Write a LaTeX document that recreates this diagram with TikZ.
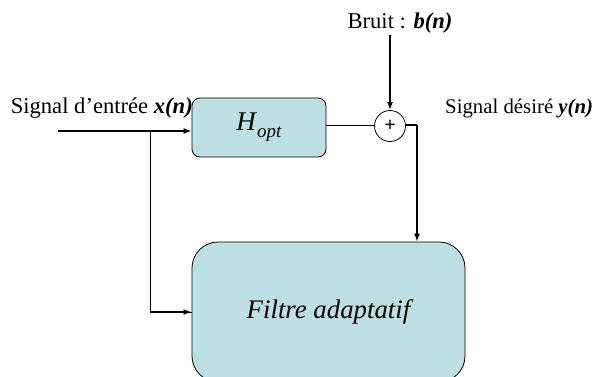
\documentclass[tikz,border=0pt]{standalone}
\usepackage{fontspec}
\setmainfont{Liberation Serif}
\usetikzlibrary{arrows.meta}
\usetikzlibrary{positioning}
\definecolor{boxcyan}{RGB}{188,224,227}
\tikzstyle{block} = [rectangle, rounded corners=8pt, minimum width=134pt, minimum height=59pt, draw=black, fill=boxcyan, line width=0.8pt]
\tikzstyle{bigblock} = [rectangle, rounded corners=26pt, minimum width=273pt, minimum height=140pt, draw=black, fill=boxcyan, line width=0.8pt]
\tikzstyle{sum} = [circle, minimum size=31pt, inner sep=0pt, draw=black, fill=white, line width=0.8pt]
\tikzstyle{label} = [inner sep=0pt, font=\fontsize{22.6}{26}\selectfont]
\tikzstyle{arrow} = [line width=1.6pt,-{Latex[length=8pt,width=6pt]}]
\tikzstyle{line} = [line width=0.8pt]

\begin{document}
\begin{tikzpicture}[x=1pt, y=-1pt]
 \useasboundingbox (0,0) rectangle (594,376);
 \node (hopt) [block] at (259,127.5) {\fontsize{27}{30}\selectfont\textit{H}\raisebox{-7pt}{\fontsize{19}{20}\selectfont\textit{opt}}};
 \node (filtre) [bigblock] at (328.5,312) {\fontsize{26.8}{30}\selectfont\itshape Filtre adaptatif};
 \node (sum) [sum] at (390,126) {\fontsize{20}{22}\selectfont\textbf{+}};
 \coordinate (in) at (58,131);
 \coordinate (split) at (150,131);
 \coordinate (out) at (417,125);
 \coordinate (noise) at (390,35);
 \node (noiselabel) [label, anchor=base] at (400,28) {Bruit : \textbf{\textit{b(n)}}};
 \node (inlabel) [label, anchor=base east] at (193,113) {Signal d’entrée \textbf{\textit{x(n)}}};
 \node (outlabel) [label, anchor=base west, font=\fontsize{20.8}{24}\selectfont] at (445,113) {Signal désiré \textbf{\textit{y(n)}}};

 \draw [arrow] (in) -- (in -| hopt.west);
 \draw [line] (split) |- (filtre.west);
 \draw [arrow] (split |- filtre.west) -- (filtre.west);
 \draw [line] (hopt.east |- out) -- (sum.west |- out);
 \draw [arrow] (noise) -- (sum);
 \draw [arrow, -] (sum.east |- out) -- (out);
 \draw [arrow] (out) -- (out |- filtre.north);
\end{tikzpicture}
\end{document}
